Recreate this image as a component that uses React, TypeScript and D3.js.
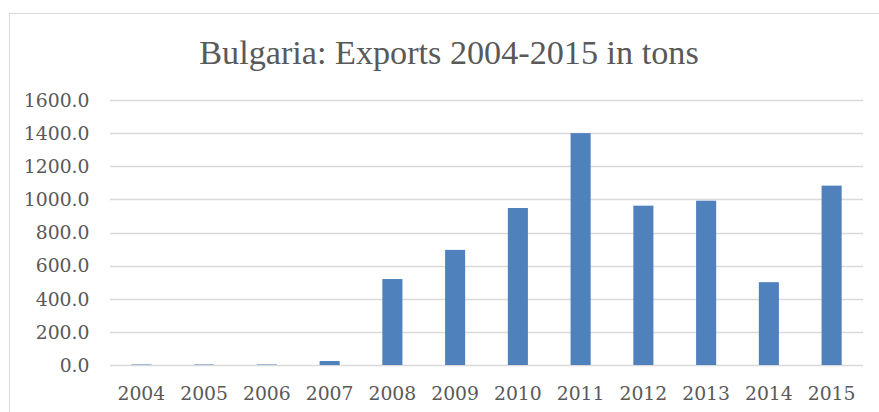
import React from "react";
import * as d3 from "d3";

const years = ["2004","2005","2006","2007","2008","2009","2010","2011","2012","2013","2014","2015"];
const exportsTons = [3, 3, 3, 24, 519, 695, 948, 1400, 962, 992, 500, 1083];
const yTicks = [0, 200, 400, 600, 800, 1000, 1200, 1400, 1600];
const title = "Bulgaria: Exports 2004-2015 in tons";

const W = 879, H = 412;
const plot = { left: 110, right: 863, top: 100, bottom: 365 };

export default function App() {
  const x = d3.scaleBand<string>().domain(years).range([plot.left, plot.right]).paddingInner(0.68).paddingOuter(0.34);
  const y = d3.scaleLinear().domain([0, 1600]).range([plot.bottom, plot.top]);
  const tickFont = "'DejaVu Serif', serif";
  return (
    <svg width={W} height={H} style={{ position: "absolute", left: 0, top: 0, background: "#fff" }}>
      <rect x={9.5} y={13.5} width={1000} height={600} fill="#fff" stroke="#d9d9d9" strokeWidth={1} />
      <text x={449} y={64} textAnchor="middle" fontFamily="'Liberation Serif', serif" fontSize={34.2} fill="#595959">{title}</text>
      {yTicks.map(t => (
        <g key={t}>
          <line x1={plot.left} x2={plot.right} y1={Math.round(y(t)) + 0.5} y2={Math.round(y(t)) + 0.5} stroke="#d9d9d9" strokeWidth={1.3} />
          <text x={89.5} y={y(t) + 6.8} textAnchor="end" fontFamily={tickFont} fontSize={18.8} fill="#595959">{d3.format(".1f")(t)}</text>
        </g>
      ))}
      {years.map((yr, i) => (
        <rect key={yr} x={x(yr)} width={x.bandwidth()} y={y(exportsTons[i])} height={plot.bottom - y(exportsTons[i])} fill="#4f81bd" />
      ))}
      {years.map(yr => (
        <text key={yr} x={(x(yr) as number) + x.bandwidth() / 2} y={400} textAnchor="middle" fontFamily={tickFont} fontSize={18.8} fill="#595959">{yr}</text>
      ))}
    </svg>
  );
}
